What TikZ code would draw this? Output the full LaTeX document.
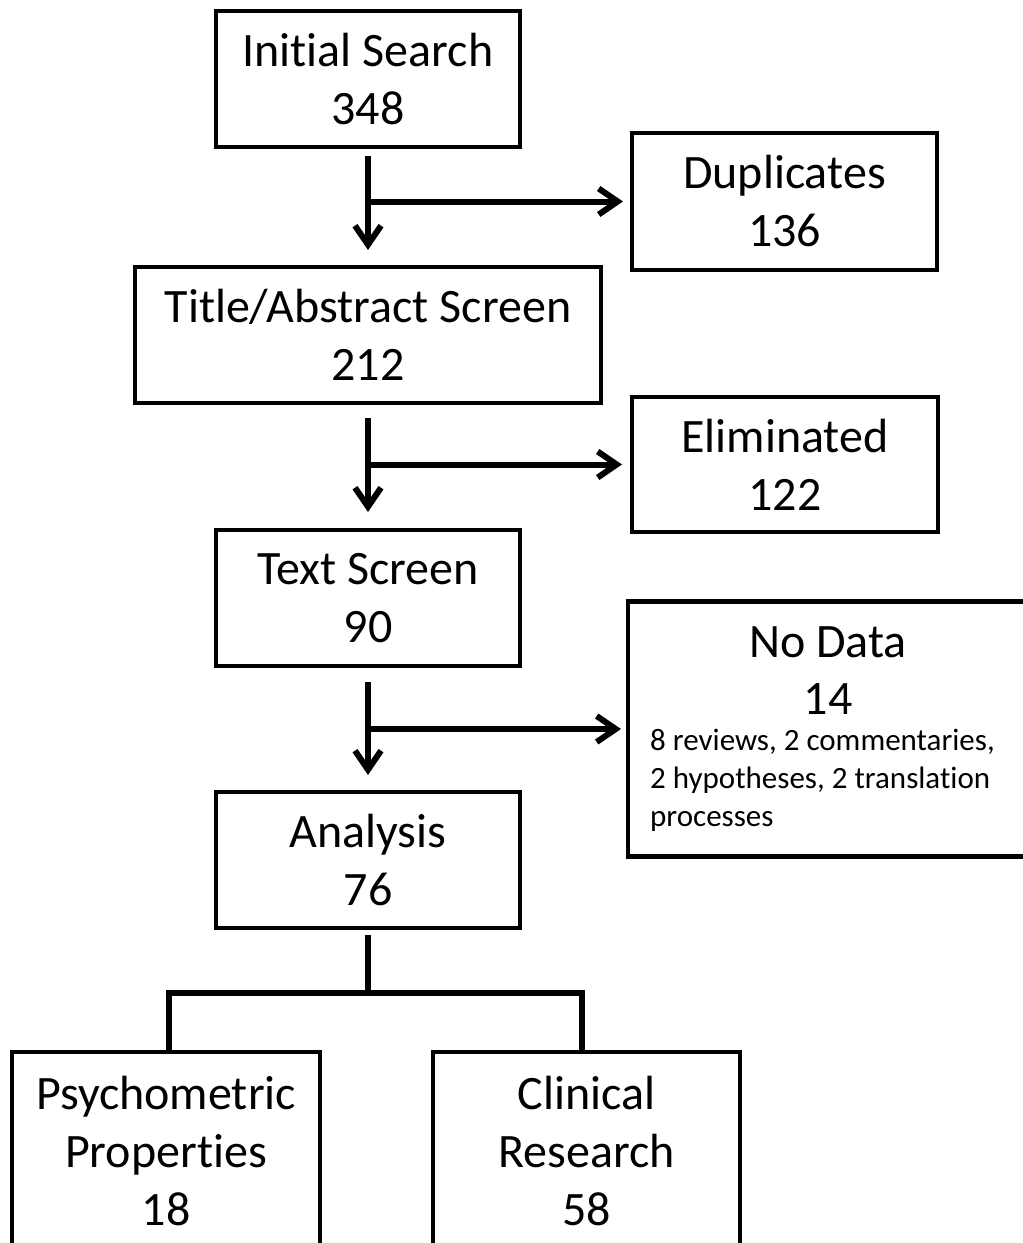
\documentclass[tikz,border=0pt]{standalone}
\usepackage{fontspec}
\setmainfont{Carlito}[Ligatures={NoCommon}]
\usetikzlibrary{arrows.meta,calc}
\begin{document}
\begin{tikzpicture}[x=1pt,y=-1pt,
  box/.style={draw, line width=4.5pt, rectangle, inner sep=0pt, outer sep=0pt, align=center, font=\fontsize{48pt}{58pt}\selectfont},
  arr/.style={line width=6pt, -{Straight Barb[length=19pt,width=26pt]}},
  link/.style={line width=6pt},
  small/.style={font=\fontsize{31pt}{38pt}\selectfont, inner sep=0pt, anchor=base west},
  big/.style={font=\fontsize{48pt}{58pt}\selectfont, inner sep=0pt, anchor=base}]
\useasboundingbox (0,0) rectangle (1023,1243);
\clip (0,0) rectangle (1023,1243);
% boxes
\node[box, minimum width=304pt, minimum height=136pt] (is) at (368,79) {Initial Search\\348};
\node[box, minimum width=305pt, minimum height=137pt] (dup) at (784.5,201.5) {Duplicates\\136};
\node[box, minimum width=466pt, minimum height=136pt] (ta) at (368,335) {Title/Abstract Screen\\212};
\node[box, minimum width=306pt, minimum height=135pt] (el) at (785,464.5) {Eliminated\\122};
\node[box, minimum width=304pt, minimum height=136pt] (ts) at (368,598) {Text Screen\\90};
\node[box, minimum width=400pt, minimum height=255pt] (nd) at (828,729) {};
\node[big] (ndtitle) at (828,657) {No Data};
\node[big] (ndnum) at (828,714) {14};
\node[small] (ndl1) at (650,750) {8 reviews, 2 commentaries,};
\node[small] (ndl2) at (650,788) {2 hypotheses, 2 translation};
\node[small] (ndl3) at (650,826) {processes};
\node[box, minimum width=304pt, minimum height=136pt] (an) at (368,860) {Analysis\\76};
\node[box, minimum width=308pt, minimum height=198pt] (ps) at (166,1151) {Psychometric\\Properties\\18};
\node[box, minimum width=307pt, minimum height=198pt] (cl) at (586.5,1151) {Clinical\\Research\\58};
% arrows
\draw[arr, shorten <=9pt, shorten >=17pt] (is.south) -- (ta.north);
\draw[arr, shorten >=9pt] (is.south |- dup.west) -- (dup.west);
\draw[arr, shorten <=15pt, shorten >=18pt] (ta.south) -- (ts.north);
\draw[arr, shorten >=10pt] (ta.south |- el.west) -- (el.west);
\draw[arr, shorten <=16pt, shorten >=17pt] (ts.south) -- (an.north);
\draw[arr, shorten >=7pt] (ts.south |- nd.west) -- (nd.west);
% split
\coordinate (j) at ($(an.south)+(0,65)$);
\draw[link, shorten <=7pt] (an.south) -- (j);
\draw[link] ([xshift=3pt]ps.north) |- (j) -| ([xshift=-5pt]cl.north);
\end{tikzpicture}
\end{document}
